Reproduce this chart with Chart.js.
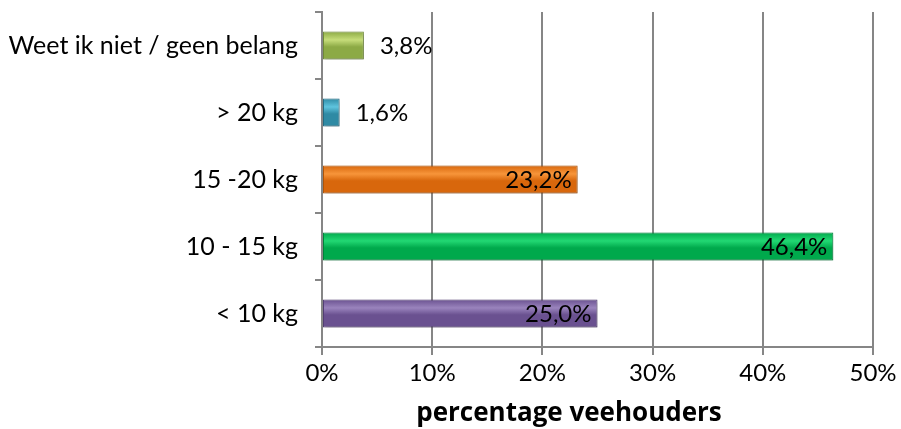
<!DOCTYPE html>
<html>
<head>
<meta charset="utf-8">
<script src="https://cdn.jsdelivr.net/npm/chart.js@4.4.0/dist/chart.umd.min.js"></script>
<style>
  html, body { margin: 0; padding: 0; background: #fff; }
  #wrap { width: 901px; height: 429px; }
</style>
</head>
<body>
<div id="wrap"><canvas id="barChart" width="901" height="429"></canvas></div>
<script>
// 데이터
const categories = ['Weet ik niet / geen belang', '> 20 kg', '15 -20 kg', '10 - 15 kg', '< 10 kg'];
const values = [3.8, 1.6, 23.2, 46.4, 25.0];
const xTicks = [0, 10, 20, 30, 40, 50];
const axisTitle = 'percentage veehouders';
const topColors = ['#c6dd7a', '#5fc4de', '#f7953a', '#22d873', '#9a84bd'];
const bottomColors = ['#8caa45', '#2f8aa4', '#d8670c', '#00a94c', '#6a5190'];
const edgeColors = ['#76923c', '#24728a', '#b85a0a', '#008a3e', '#574279'];

const fontFam = 'Lato, "Open Sans", sans-serif';

function fmt(v) {
  return v.toFixed(1).replace('.', ',') + '%';
}

// 막대 그라데이션
function barFill(ctx) {
  const chart = ctx.chart;
  const yScale = chart.scales.y;
  if (!yScale || !chart.chartArea) return topColors[ctx.dataIndex];
  const cy = yScale.getPixelForValue(ctx.dataIndex);
  const half = 14;
  const g = chart.ctx.createLinearGradient(0, cy - half, 0, cy + half);
  g.addColorStop(0, bottomColors[ctx.dataIndex]);
  g.addColorStop(0.3, topColors[ctx.dataIndex]);
  g.addColorStop(0.55, bottomColors[ctx.dataIndex]);
  g.addColorStop(1, bottomColors[ctx.dataIndex]);
  return g;
}

// 값 라벨 + 축 제목 플러그인
const valueLabels = {
  id: 'valueLabels',
  beforeDatasetsDraw(chart) {
    const c = chart.ctx;
    c.save();
    c.shadowColor = 'rgba(0,0,0,0.25)';
    c.shadowBlur = 4;
    c.shadowOffsetX = 1;
    c.shadowOffsetY = 2;
  },
  afterDatasetsDraw(chart) {
    const c = chart.ctx;
    c.restore();
    const meta = chart.getDatasetMeta(0);
    c.save();
    c.font = '24px ' + fontFam;
    c.fillStyle = '#000';
    c.textBaseline = 'middle';
    meta.data.forEach((bar, i) => {
      const v = values[i];
      if (v > 10) {
        c.textAlign = 'right';
        c.fillText(fmt(v), bar.x - 6, bar.y + 1);
      } else {
        c.textAlign = 'left';
        c.fillText(fmt(v), bar.x + 16, bar.y + 1);
      }
    });
    // 축 제목 (엑셀처럼 전체 폭 기준으로 가운데)
    c.font = 'bold 26px "Open Sans", Lato, sans-serif';
    c.textAlign = 'center';
    c.fillText(axisTitle, 569, 414);
    c.restore();
  }
};

const data = {
  labels: categories,
  datasets: [{
    data: values,
    backgroundColor: barFill,
    borderColor: edgeColors,
    borderWidth: 1,
    borderSkipped: false,
    categoryPercentage: 1,
    barPercentage: 0.42
  }]
};

const config = {
  type: 'bar',
  data: data,
  plugins: [valueLabels],
  options: {
    indexAxis: 'y',
    responsive: false,
    animation: false,
    layout: { padding: { top: 12, right: 28, left: 0, bottom: 0 } },
    plugins: {
      legend: { display: false },
      tooltip: { enabled: false }
    },
    scales: {
      x: {
        min: 0,
        max: 50,
        afterBuildTicks: (scale) => { scale.ticks = xTicks.map(v => ({ value: v })); },
        afterFit: (scale) => { scale.height = 82; },
        border: { color: '#868686', width: 2 },
        grid: { color: '#868686', lineWidth: 2, tickLength: 8 },
        ticks: {
          padding: 4,
          color: '#000',
          font: { family: fontFam, size: 24 },
          maxRotation: 0,
          callback: (v) => v + '%'
        }
      },
      y: {
        afterFit: (scale) => {
          scale.width = 322;
          scale.paddingTop = 0;
          scale.paddingBottom = 0;
        },
        border: { color: '#868686', width: 2 },
        grid: { drawOnChartArea: false, color: '#868686', lineWidth: 2, tickLength: 7, offset: true },
        ticks: {
          padding: 17,
          color: '#000',
          font: { family: fontFam, size: 25 }
        }
      }
    }
  }
};

const ctx = document.getElementById('barChart');
new Chart(ctx, config);
</script>
</body>
</html>
